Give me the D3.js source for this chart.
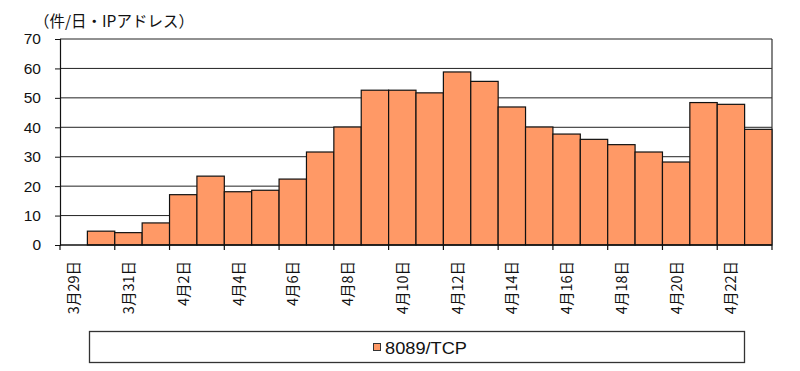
<!DOCTYPE html>
<html><head><meta charset="utf-8">
<script src="https://cdn.jsdelivr.net/npm/d3@7"></script>
<style>body{margin:0;background:#fff;}svg{display:block;font-family:"Liberation Sans",Arial,sans-serif;}</style>
</head><body>
<svg id="c" width="800" height="371"></svg>
<script>
const categories = ["3月29日","3月30日","3月31日","4月1日","4月2日","4月3日","4月4日","4月5日","4月6日","4月7日","4月8日","4月9日","4月10日","4月11日","4月12日","4月13日","4月14日","4月15日","4月16日","4月17日","4月18日","4月19日","4月20日","4月21日","4月22日","4月23日"];
const values = [0,4.7,4.2,7.5,17.1,23.4,18.1,18.6,22.4,31.6,40.1,52.6,52.6,51.7,58.8,55.6,46.9,40.1,37.7,35.9,34.1,31.6,28.2,48.4,47.8,39.3];
const yTicks = [0,10,20,30,40,50,60,70];
const seriesName = "8089/TCP";
const yTitle = "（件/日・IPアドレス）";

const svg = d3.select("#c");
const L = 60, R = 772, T = 39, B = 245;
const x = d3.scaleBand().domain(categories).range([L, R]).padding(0);
const y = d3.scaleLinear().domain([0, 70]).range([B, T]);
const color = "#FF9966";

// gridlines
svg.append("g").selectAll("line").data(yTicks.filter(d => d > 0)).join("line")
  .attr("x1", L).attr("x2", R).attr("y1", d => y(d)).attr("y2", d => y(d))
  .attr("stroke", "#222").attr("stroke-width", 1);
// right border
svg.append("line").attr("x1", R).attr("x2", R).attr("y1", T).attr("y2", B)
  .attr("stroke", "#333").attr("stroke-width", 1.2);

// bars
svg.append("g").selectAll("rect").data(values).join("rect")
  .attr("x", (d, i) => x(categories[i]))
  .attr("y", d => y(d))
  .attr("width", x.bandwidth())
  .attr("height", d => B - y(d))
  .attr("fill", color).attr("stroke", "#111").attr("stroke-width", 1.2);

// y axis
const yAxis = d3.axisLeft(y).tickValues(yTicks).tickSize(5).tickPadding(14);
const gy = svg.append("g").attr("transform", `translate(${L},0)`).call(yAxis);
gy.select(".domain").attr("stroke", "#111").attr("stroke-width", 1.2);
gy.selectAll(".tick line").attr("stroke", "#111");
gy.selectAll("text").attr("font-size", 15.5).attr("fill", "#111");

// x axis: ticks at every 2nd boundary
const bounds = d3.range(0, categories.length + 1, 2);
svg.append("line").attr("x1", L).attr("x2", R).attr("y1", B).attr("y2", B).attr("stroke", "#111").attr("stroke-width", 1.4);
svg.append("g").selectAll("line").data(bounds).join("line")
  .attr("x1", d => L + d * x.step()).attr("x2", d => L + d * x.step())
  .attr("y1", B).attr("y2", B + 5).attr("stroke", "#111").attr("stroke-width", 1.2);
svg.append("g").selectAll("text").data(categories.filter((d, i) => i % 2 === 0)).join("text")
  .attr("transform", d => `translate(${x(d) + x.bandwidth() / 2 + 5.5},${B + 16}) rotate(-90)`)
  .attr("text-anchor", "end").attr("font-size", 14.5).attr("fill", "#111")
  .attr("font-family", "'Noto Sans CJK JP','Liberation Sans',sans-serif")
  .text(d => d);

// y title
svg.append("text").attr("x", 34).attr("y", 27).attr("font-size", 15.5).attr("fill", "#111")
  .attr("font-family", "'Noto Sans CJK JP',sans-serif").text(yTitle);

// legend
svg.append("rect").attr("x", 89.5).attr("y", 331.5).attr("width", 655).attr("height", 31)
  .attr("fill", "#fff").attr("stroke", "#333").attr("stroke-width", 1.3);
svg.append("rect").attr("x", 373.5).attr("y", 343.5).attr("width", 7).attr("height", 7)
  .attr("fill", color).attr("stroke", "#333").attr("stroke-width", 1);
svg.append("text").attr("x", 385).attr("y", 353.5).attr("font-size", 17).attr("fill", "#111")
  .attr("textLength", 82).attr("lengthAdjust", "spacingAndGlyphs")
  .text(seriesName);
</script>
</body></html>
